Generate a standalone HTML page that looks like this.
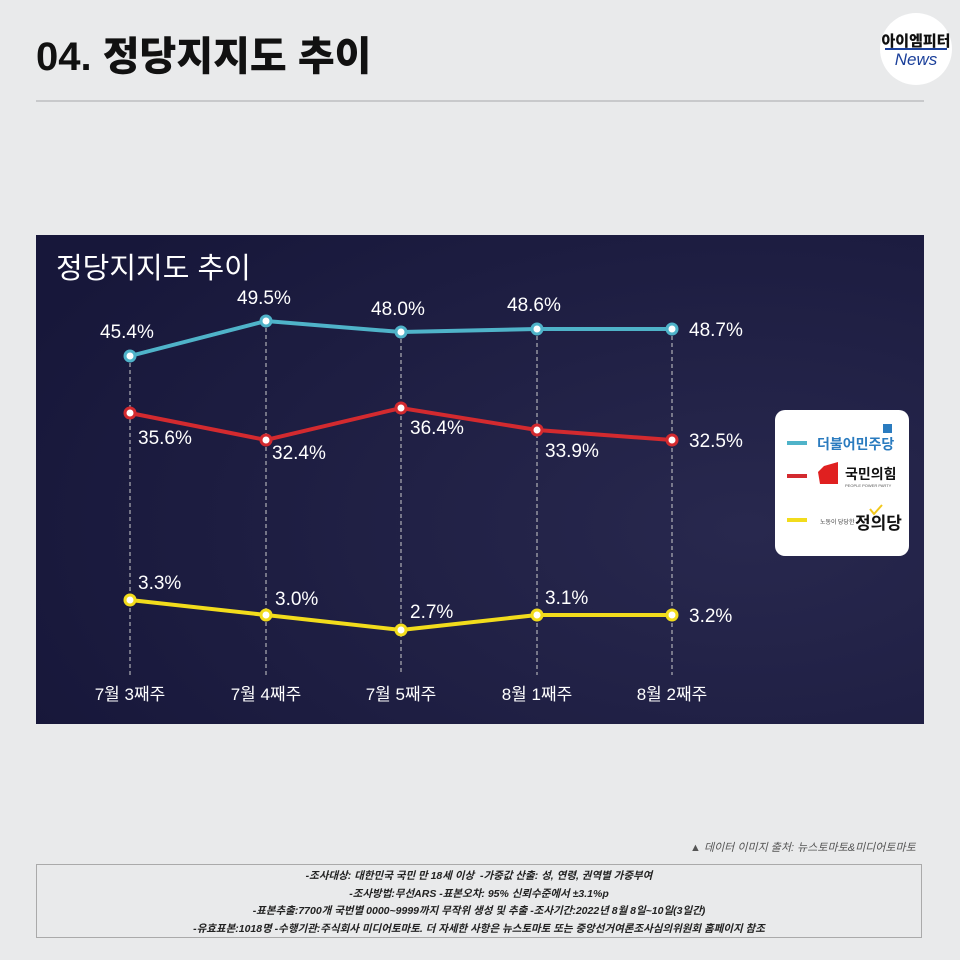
<!DOCTYPE html>
<html><head><meta charset="utf-8"><style>
body{margin:0;width:960px;height:960px;background:#e9eaeb;font-family:"Liberation Sans","Noto Sans CJK KR",sans-serif;position:relative;overflow:hidden}
.t{position:absolute}
</style></head><body>
<div class="t" style="left:36px;top:24px;font-size:40px;font-weight:900;color:#111;letter-spacing:0px">04. 정당지지도 추이</div>
<div class="t" style="left:36px;top:100px;width:888px;height:2px;background:#c8c9cb"></div>
<div class="t" style="left:880px;top:13px;width:72px;height:72px;border-radius:50%;background:#fff"></div>
<div class="t" style="left:880px;top:30px;width:72px;text-align:center;font-size:15px;font-weight:900;color:#111">아이엠피터</div>
<div class="t" style="left:885px;top:48px;width:62px;height:2px;background:#1a3f9a"></div>
<div class="t" style="left:880px;top:50px;width:72px;text-align:center;font-size:17px;font-style:italic;color:#1a3f9a">News</div>
<svg class="t" style="left:36px;top:235px" width="888" height="489" viewBox="36 235 888 489">
<defs><radialGradient id="g" cx="0.8" cy="0.6" r="0.9"><stop offset="0" stop-color="#28284e"/><stop offset="1" stop-color="#17173a"/></radialGradient></defs>
<rect x="36" y="235" width="888" height="489" fill="url(#g)"/>
<text x="56" y="278" font-size="29" fill="#fff" font-family="Liberation Sans,Noto Sans CJK KR,sans-serif">정당지지도 추이</text>
<g stroke="#ccc" stroke-dasharray="4,3" stroke-width="1">
<line x1="130" y1="356" x2="130" y2="675"/><line x1="266" y1="321" x2="266" y2="675"/><line x1="401" y1="332" x2="401" y2="675"/><line x1="537" y1="329" x2="537" y2="675"/><line x1="672" y1="329" x2="672" y2="675"/></g>
<polyline points="130,356 266,321 401,332 537,329 672,329" fill="none" stroke="#4fb3c9" stroke-width="4"/>
<polyline points="130,413 266,440 401,408 537,430 672,440" fill="none" stroke="#d32a2f" stroke-width="4"/>
<polyline points="130,600 266,615 401,630 537,615 672,615" fill="none" stroke="#f2dc1c" stroke-width="4"/>
<g stroke-width="3" fill="#fff">
<g stroke="#4fb3c9"><circle cx="130" cy="356" r="5"/><circle cx="266" cy="321" r="5"/><circle cx="401" cy="332" r="5"/><circle cx="537" cy="329" r="5"/><circle cx="672" cy="329" r="5"/></g>
<g stroke="#d32a2f"><circle cx="130" cy="413" r="5"/><circle cx="266" cy="440" r="5"/><circle cx="401" cy="408" r="5"/><circle cx="537" cy="430" r="5"/><circle cx="672" cy="440" r="5"/></g>
<g stroke="#f2dc1c"><circle cx="130" cy="600" r="5"/><circle cx="266" cy="615" r="5"/><circle cx="401" cy="630" r="5"/><circle cx="537" cy="615" r="5"/><circle cx="672" cy="615" r="5"/></g>
</g>
<g fill="#fff" font-size="19" font-family="Liberation Sans,Noto Sans CJK KR,sans-serif">
<text x="100" y="338">45.4%</text><text x="237" y="304">49.5%</text><text x="371" y="315">48.0%</text><text x="507" y="311">48.6%</text><text x="689" y="336">48.7%</text>
<text x="138" y="444">35.6%</text><text x="272" y="459">32.4%</text><text x="410" y="434">36.4%</text><text x="545" y="457">33.9%</text><text x="689" y="447">32.5%</text>
<text x="138" y="589">3.3%</text><text x="275" y="605">3.0%</text><text x="410" y="618">2.7%</text><text x="545" y="604">3.1%</text><text x="689" y="622">3.2%</text>
<g font-size="17" text-anchor="middle"><text x="130" y="700">7월 3째주</text><text x="266" y="700">7월 4째주</text><text x="401" y="700">7월 5째주</text><text x="537" y="700">8월 1째주</text><text x="672" y="700">8월 2째주</text></g>
</g>
<rect x="775" y="410" width="134" height="146" rx="10" fill="#fff"/>
<rect x="787" y="441" width="20" height="4" fill="#4fb3c9"/><rect x="787" y="474" width="20" height="4" fill="#d32a2f"/><rect x="787" y="518" width="20" height="4" fill="#f2dc1c"/>
<text x="817" y="449" font-size="14" font-weight="bold" fill="#2a7bbf" font-family="Noto Sans CJK KR,sans-serif">더불어민주당</text>
<rect x="883" y="424" width="9" height="9" fill="#2a7bbf"/>
<polygon points="824,466 838,462 838,484 820,484 818,472" fill="#e02020"/>
<text x="845" y="479" font-size="14" font-weight="bold" fill="#111" font-family="Noto Sans CJK KR,sans-serif">국민의힘</text>
<text x="845" y="487" font-size="4" fill="#555">PEOPLE POWER PARTY</text>
<text x="820" y="524" font-size="6" fill="#444" font-family="Noto Sans CJK KR,sans-serif">노동이 당당한</text>
<text x="855" y="529" font-size="17" font-weight="bold" fill="#111" font-family="Noto Sans CJK KR,sans-serif">정의당</text>
<polyline points="870,509 874,514 882,505" fill="none" stroke="#f2c81c" stroke-width="2"/>
</svg>
<div class="t" style="left:690px;top:839px;font-size:11px;font-style:italic;color:#555">▲ 데이터 이미지 출처: 뉴스토마토&amp;미디어토마토</div>
<div class="t" style="left:36px;top:864px;width:886px;height:74px;border:1px solid #aaa;font-size:10.5px;font-weight:bold;font-style:italic;color:#222;text-align:center;line-height:17.5px;padding-top:3px;box-sizing:border-box">
-조사대상: 대한민국 국민 만 18세 이상 &nbsp;-가중값 산출: 성, 연령, 권역별 가중부여<br>-조사방법:무선ARS -표본오차: 95% 신뢰수준에서 ±3.1%p<br>-표본추출:7700개 국번별 0000~9999까지 무작위 생성 및 추출 -조사기간:2022년 8월 8일~10일(3일간)<br>-유효표본:1018명 -수행기관:주식회사 미디어토마토. 더 자세한 사항은 뉴스토마토 또는 중앙선거여론조사심의위원회 홈페이지 참조</div>
</body></html>
